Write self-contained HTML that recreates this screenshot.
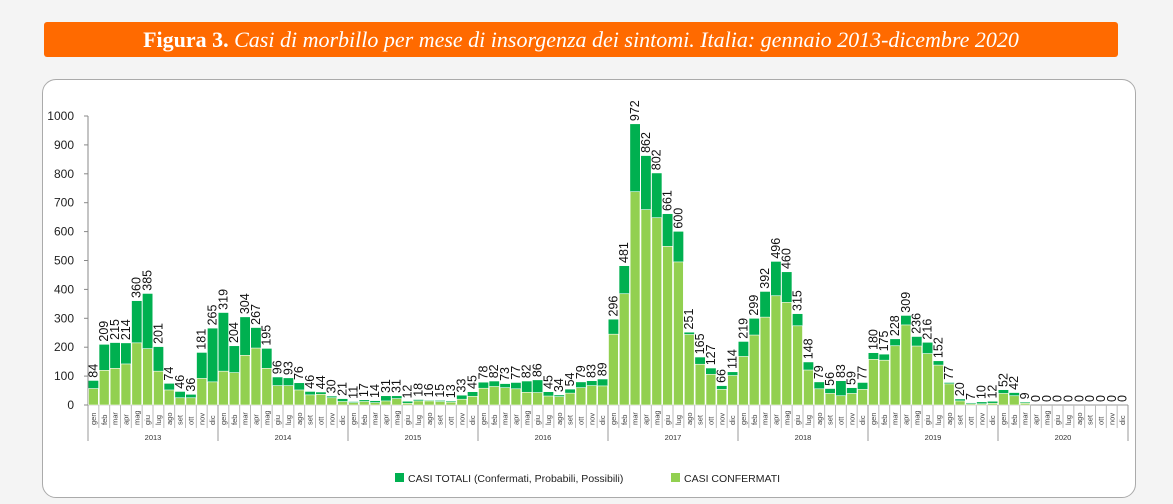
<!DOCTYPE html>
<html><head><meta charset="utf-8"><style>
body{margin:0;width:1173px;height:504px;background:#f4f4f4;overflow:hidden;font-family:"Liberation Sans",sans-serif;}
#hdr{position:absolute;left:44px;top:22px;width:1074px;height:35px;background:#ff6a00;border-radius:3px;color:#fff;font-family:"Liberation Serif",serif;font-size:22px;line-height:35px;text-align:center;}
#panel{position:absolute;left:42px;top:79px;width:1092px;height:417px;background:#fff;border:1px solid #aaa;border-radius:14px;}
svg{position:absolute;left:0;top:0;}
</style></head><body>
<div id="hdr"><b>Figura 3.</b> <i>Casi di morbillo per mese di insorgenza dei sintomi. Italia: gennaio 2013-dicembre 2020</i></div>
<div id="panel"></div>
<svg id="chart" width="1173" height="504"></svg>
<script>
const years=["2013","2014","2015","2016","2017","2018","2019","2020"];
const months=["gen","feb","mar","apr","mag","giu","lug","ago","set","ott","nov","dic"];
const totals=[84,209,215,214,360,385,201,74,46,36,181,265,
319,204,304,267,195,96,93,76,46,44,30,21,
11,17,14,31,31,12,18,16,15,13,33,45,
78,82,73,77,82,86,45,34,54,79,83,89,
296,481,972,862,802,661,600,251,165,127,66,114,
219,299,392,496,460,315,148,79,56,83,59,77,
180,175,228,309,236,216,152,77,20,7,10,12,
52,42,9,0,0,0,0,0,0,0,0,0];
const confirmed=[57,120,127,142,215,195,117,52,25,25,92,80,
117,112,172,197,127,67,67,52,35,37,25,12,
8,12,8,14,22,6,14,14,12,10,20,30,
58,64,60,56,44,43,31,29,41,60,67,66,
245,385,738,676,648,549,495,244,141,106,54,102,
168,242,304,378,355,274,121,56,40,32,40,54,
158,155,205,277,204,178,138,73,14,4,4,6,
40,32,6,0,0,0,0,0,0,0,0,0];
const yTicks=[0,100,200,300,400,500,600,700,800,900,1000];
const NS="http://www.w3.org/2000/svg";
const svg=document.getElementById('chart');
const X0=88,X1=1128,Y0=405,Y1=116;
const step=(X1-X0)/totals.length;
const y=v=>Y0-(v/1000)*(Y0-Y1);
const x=i=>X0+i*step;
function mk(t,a,txt){const e=document.createElementNS(NS,t);for(const k in a)e.setAttribute(k,a[k]);if(txt!==undefined)e.textContent=txt;svg.appendChild(e);return e;}
let ax=mk('line',{x1:X0,y1:Y1,x2:X0,y2:Y0,stroke:'#888'});


yTicks.forEach(t=>{
 let l=mk('line',{x1:X0-4,y1:y(t),x2:X0,y2:y(t),stroke:'#888'});
 
 
 let tx=mk('text',{x:X0-14,y:y(t)+4,'text-anchor':'end','font-size':12,fill:'#222'},t);
 
 
});
let xa=mk('line',{x1:X0,y1:Y0,x2:X1,y2:Y0,stroke:'#999'});


totals.forEach((v,i)=>{
 const bx=x(i)+0.5,bw=step-1;
 let r1=mk('rect',{x:bx,y:y(v),width:bw,height:Y0-y(v),fill:'#00b050'});
 
 
 const c=confirmed[i];
 let r2=mk('rect',{x:bx,y:y(c),width:bw,height:Y0-y(c),fill:'#92d050',stroke:'#fff','stroke-width':0.6});
 
 
 const cx=x(i)+step/2+4, ty=y(v)-3;
 let lb=mk('text',{x:cx,y:ty,transform:`rotate(-90 ${cx} ${ty})`,'font-size':12.5,fill:'#111'},v);
 
 
 let sep=mk('line',{x1:x(i+1),y1:Y0,x2:x(i+1),y2:Y0+23,stroke:'#bbb'});
 
 
 const mx=x(i)+step/2+2.5, my=Y0+20;
 let ml=mk('text',{x:mx,y:my,transform:`rotate(-90 ${mx} ${my})`,'font-size':7.5,fill:'#444'},months[i%12]);
 
 
});
years.forEach((yr,k)=>{
 const xs=x(k*12);
 let l=mk('line',{x1:xs,y1:Y0,x2:xs,y2:Y0+36,stroke:'#999'});
 
 
 let t=mk('text',{x:xs+6*step,y:Y0+35,'text-anchor':'middle','font-size':7.5,fill:'#333'},yr);
 
 
});
let le=mk('line',{x1:X1,y1:Y0,x2:X1,y2:Y0+36,stroke:'#999'});


let s1=mk('rect',{x:395,y:473,width:9,height:9,fill:'#00b050'});


let t1=mk('text',{x:408,y:482,'font-size':10.5,fill:'#222'},'CASI TOTALI (Confermati, Probabili, Possibili)');


let s2=mk('rect',{x:671,y:473,width:9,height:9,fill:'#92d050'});


let t2=mk('text',{x:684,y:482,'font-size':10.5,fill:'#222'},'CASI CONFERMATI');


</script>
</body></html>
